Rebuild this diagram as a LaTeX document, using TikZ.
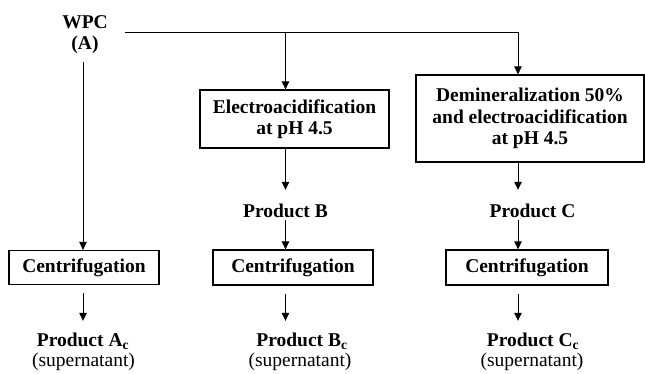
\documentclass[tikz,border=0pt]{standalone}
\usepackage{fontspec}
\setmainfont{Liberation Serif}
\usetikzlibrary{arrows.meta}
\begin{document}
\begin{tikzpicture}[x=1pt,y=-1pt,
  every node/.style={font=\fontsize{19.5}{21.5}\selectfont\bfseries, inner sep=0pt},
  box/.style={draw, line width=1.3pt, align=center},
  prod/.style={anchor=base, text height=13pt, text depth=0pt},
  note/.style={anchor=base, font=\fontsize{19.5}{21.5}\selectfont},
  conn/.style={line width=1pt},
  arr/.style={conn, -{Triangle[length=8pt,width=7.5pt]}}]
\useasboundingbox (0,0) rectangle (645,373);

% column references
\coordinate (ca) at (83,0);
\coordinate (j0) at (125,32);
\coordinate (jb) at (285.5,32);
\coordinate (jc) at (518,32);

% source
\node[align=center, anchor=north] (wpc) at (85,15) {WPC\\(A)};

% process boxes
\node[box, minimum width=189pt, minimum height=58pt] (ea) at (294.5,119) {Electroacidification\\at pH 4.5};
\node[box, minimum width=228pt, minimum height=87pt] (dem) at (530,118.5) {Demineralization 50\%\\and electroacidification\\at pH 4.5};

% intermediate products
\node[prod] (pb) at (285.5,217) {Product B};
\node[prod] (pc) at (532.5,217) {Product C};

% centrifugation boxes
\node[box, minimum width=150pt, minimum height=34pt] (c1) at (84,267.5) {Centrifugation};
\node[box, minimum width=160pt, minimum height=35pt] (c2) at (293,267.5) {Centrifugation};
\node[box, minimum width=162pt, minimum height=35pt] (c3) at (527,267.5) {Centrifugation};

% final products
\node[prod] (pac) at (83,346) {Product A\textsubscript{c}};
\node[note] (sac) at (83.5,366) {(supernatant)};
\node[prod] (pbc) at (302,346) {Product B\textsubscript{c}};
\node[note] (sbc) at (300,366) {(supernatant)};
\node[prod] (pcc) at (533,346) {Product C\textsubscript{c}};
\node[note] (scc) at (532,366) {(supernatant)};

% top distribution line
\draw[arr] (j0) -- (jc) -- (jc |- dem.north);
\draw[arr] (jb) -- (jb |- ea.north);

% column A
\draw[arr, shorten <=8pt] (wpc.south -| ca) -- (c1.north -| ca);
\draw[arr, shorten <=8pt, shorten >=12pt] (c1.south -| ca) -- (pac.north -| ca);

% column B
\draw[arr, shorten >=14pt] (ea.south -| jb) -- (pb.north -| jb);
\draw[arr, shorten <=3pt] (pb.south -| jb) -- (c2.north -| jb);
\draw[arr, shorten <=8pt, shorten >=12pt] (c2.south -| jb) -- (pbc.north -| jb);

% column C
\draw[arr, shorten >=14pt] (dem.south -| jc) -- (pc.north -| jc);
\draw[arr, shorten <=3pt] (pc.south -| jc) -- (c3.north -| jc);
\draw[arr, shorten <=8pt, shorten >=12pt] (c3.south -| jc) -- (pcc.north -| jc);
\end{tikzpicture}
\end{document}
